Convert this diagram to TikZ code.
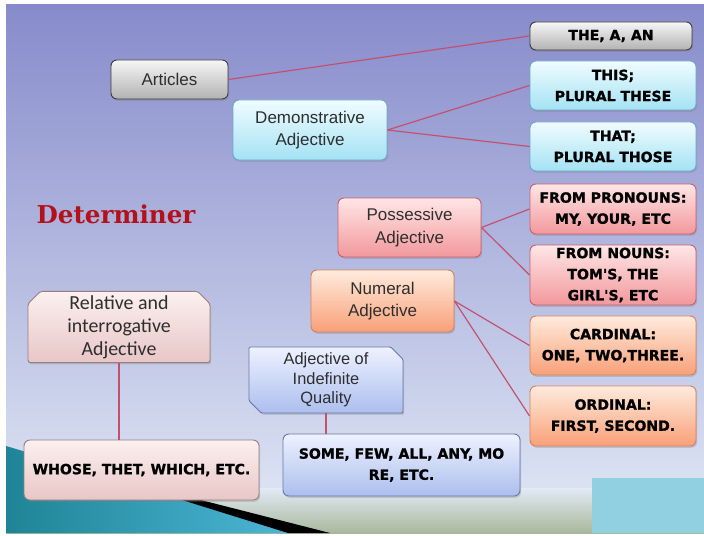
\documentclass[tikz,border=0pt]{standalone}
\usepackage{fontspec}
\setmainfont{Liberation Sans}
\newfontfamily\capsfont[BoldFeatures={FakeBold=1.2}]{DejaVu Sans}
\newfontfamily\calfont{Carlito}
\newfontfamily\titlefont{DejaVu Serif}
\usetikzlibrary{shapes.misc,shadows}
\definecolor{bgtop}{HTML}{878BCB}
\definecolor{bgmid}{HTML}{B8C0EC}
\definecolor{bgbot}{HTML}{E2EAF6}
\definecolor{bandgreen}{HTML}{A8B89C}
\definecolor{tealdark}{HTML}{1E8496}
\definecolor{teallight}{HTML}{4CB6D6}
\definecolor{cyanrect}{HTML}{90D0E0}
\definecolor{greytop}{HTML}{F6F6F6}
\definecolor{greybot}{HTML}{B2B2B2}
\definecolor{greyline}{HTML}{3C3C3C}
\definecolor{cyantop}{HTML}{F0FCFF}
\definecolor{cyanbot}{HTML}{A4E2F4}
\definecolor{cyanline}{HTML}{6AA8C8}
\definecolor{redtop}{HTML}{FFE6E6}
\definecolor{redbot}{HTML}{F2989C}
\definecolor{redline}{HTML}{C8606E}
\definecolor{orangetop}{HTML}{FFEBDD}
\definecolor{orangebot}{HTML}{F8A078}
\definecolor{orangeline}{HTML}{D8805E}
\definecolor{rosetop}{HTML}{FCF0F0}
\definecolor{rosebot}{HTML}{E8C6C6}
\definecolor{roseline}{HTML}{9A7E7E}
\definecolor{bluetop}{HTML}{EEF2FF}
\definecolor{bluebot}{HTML}{ACBEEE}
\definecolor{blueline}{HTML}{6878A8}
\definecolor{linkcol}{HTML}{C4506E}
\definecolor{txtgray}{HTML}{2E2E2E}
\definecolor{detred}{HTML}{B3121C}

\begin{document}
\begin{tikzpicture}[x=0.03cm,y=-0.03cm,
    boxsize/.style 2 args={minimum width=#1*0.03cm,minimum height=#2*0.03cm},
    box/.style={rectangle,rounded corners=5pt,inner sep=0pt,align=center,line width=0.8pt,
        drop shadow={opacity=0.3,shadow xshift=1pt,shadow yshift=-1.5pt}},
    lbl/.style={font=\fontsize{14.5}{19}\selectfont,text=txtgray},
    caps/.style={font=\capsfont\bfseries\fontsize{12}{18}\selectfont,text=black},
    greybox/.style={box,top color=greytop,bottom color=greybot,draw=greyline},
    cyanbox/.style={box,top color=cyantop,bottom color=cyanbot,draw=cyanline},
    redbox/.style={box,top color=redtop,bottom color=redbot,draw=redline},
    orangebox/.style={box,top color=orangetop,bottom color=orangebot,draw=orangeline},
    rosebox/.style={box,top color=rosetop,bottom color=rosebot,draw=roseline},
    bluebox/.style={box,top color=bluetop,bottom color=bluebot,draw=blueline},
    link/.style={draw=linkcol,line width=1pt}]
    \useasboundingbox (0,0) rectangle (704,536);
    \fill[white] (0,0) rectangle (704,536);
    \shade[top color=bgtop,middle color=bgmid,bottom color=bgbot] (6,5) rectangle (704,533);
    \shade[top color=bgbot,bottom color=bandgreen] (6,488) rectangle (704,533);
    \shade[left color=tealdark,right color=teallight] (6,446) -- (150,489) -- (292,533) -- (6,533) -- cycle;
    \fill[black] (150,487) -- (330,533) -- (288,533) -- (150,490) -- cycle;
    \fill[cyanrect] (592,478) rectangle (704,533);

    \node[greybox,boxsize={117}{39},lbl] (articles) at (169.5,79.5) {Articles};
    \node[greybox,boxsize={162}{28},caps] (theaan) at (611,36) {THE, A, AN};
    \node[cyanbox,boxsize={154}{60},lbl] (demo) at (310,130) {Demonstrative\\Adjective};
    \node[cyanbox,boxsize={166}{49},caps] (this) at (613,85.5) {THIS;\\PLURAL THESE};
    \node[cyanbox,boxsize={166}{49},caps] (that) at (613,146.5) {THAT;\\PLURAL THOSE};
    \node[font=\titlefont\bfseries\fontsize{21}{24}\selectfont,text=detred] (title) at (116,214) {Determiner};
    \node[redbox,boxsize={143}{59},lbl] (poss) at (409.5,227.5) {Possessive\\Adjective};
    \node[redbox,boxsize={166}{50},caps] (pronouns) at (613,209) {FROM PRONOUNS:\\MY, YOUR, ETC};
    \node[redbox,boxsize={166}{60},caps] (nouns) at (613,275) {FROM NOUNS:\\TOM'S, THE\\GIRL'S, ETC};
    \node[orangebox,boxsize={143}{62},lbl] (numeral) at (382.5,301) {Numeral\\Adjective};
    \node[orangebox,boxsize={166}{59},caps] (cardinal) at (613,345.5) {CARDINAL:\\ONE, TWO,THREE.};
    \node[orangebox,boxsize={166}{60},caps] (ordinal) at (613,416) {ORDINAL:\\FIRST, SECOND.};
    \node[rosebox,chamfered rectangle,chamfered rectangle corners={north west,north east},
        chamfered rectangle xsep=7pt,rounded corners=2pt,boxsize={182}{70},
        font=\calfont\fontsize{17}{19.5}\selectfont,text=txtgray] (relative) at (119,327) {Relative and\\interrogative\\Adjective};
    \node[bluebox,chamfered rectangle,chamfered rectangle corners={north east,south west},
        chamfered rectangle xsep=7pt,rounded corners=1pt,boxsize={154}{66},
        font=\fontsize{14}{16.5}\selectfont,text=txtgray] (indef) at (326,380) {Adjective of\\Indefinite\\Quality};
    \node[rosebox,boxsize={235}{60},caps] (whose) at (141.5,470) {WHOSE, THET, WHICH, ETC.};
    \node[bluebox,boxsize={237}{62},caps] (some) at (401.5,465) {SOME, FEW, ALL, ANY, MO\\RE, ETC.};

    \draw[link] (articles.east) -- (theaan.west);
    \draw[link] (demo.east) -- (this.west);
    \draw[link] (demo.east) -- (that.west);
    \draw[link] (poss.east) -- (pronouns.west);
    \draw[link] (poss.east) -- (nouns.west);
    \draw[link] (numeral.east) -- (cardinal.west);
    \draw[link] (numeral.east) -- (ordinal.west);
    \draw[link] (relative.south) -- (relative.south |- whose.north);
    \draw[link] (indef.south) -- (indef.south |- some.north);
\end{tikzpicture}
\end{document}
